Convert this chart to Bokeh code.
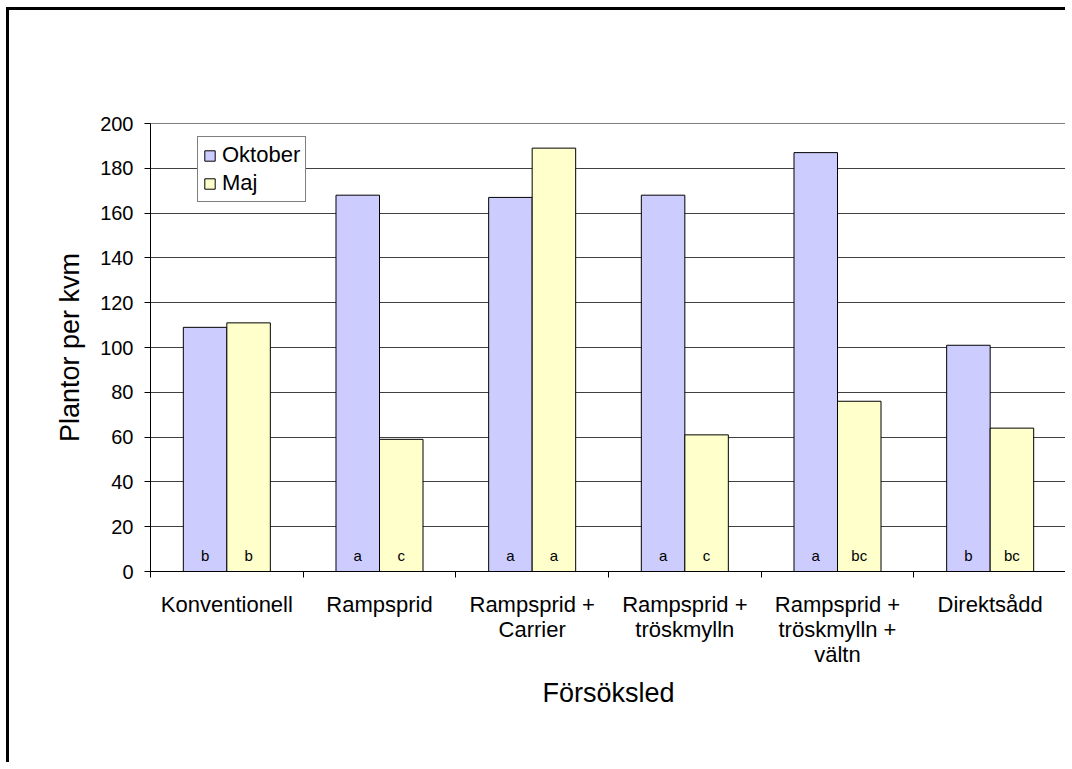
from bokeh.plotting import figure
from bokeh.models import (ColumnDataSource, Range1d, FixedTicker, Legend, LegendItem)
from bokeh.transform import dodge
from bokeh.core.properties import value
from bokeh.embed import file_html
from bokeh.resources import INLINE

# ---- data ----
categories = ["Konventionell", "Rampsprid", "Rampsprid +\nCarrier",
              "Rampsprid +\ntröskmylln", "Rampsprid +\ntröskmylln +\nvältn", "Direktsådd"]
oktober = [109, 168, 167, 168, 187, 101]
maj = [111, 59, 189, 61, 76, 64]
oktober_letters = ["b", "a", "a", "a", "a", "b"]
maj_letters = ["b", "c", "a", "c", "bc", "bc"]
y_ticks = [0, 20, 40, 60, 80, 100, 120, 140, 160, 180, 200]
series_names = ["Oktober", "Maj"]
y_title = "Plantor per kvm"
x_title = "Försöksled"

FONT = "Liberation Sans"
C_OKT = "#CCCCFF"
C_MAJ = "#FFFFCC"

# page geometry: outer border at x=6, y=7 ; frame at x 150..1066, y 123..571
MX, MY, BW_CSS = 6, 7, 3
OX, OY = MX + BW_CSS, MY + BW_CSS
SLACK = 4  # keep the page slightly smaller than the window (no scrollbars)

xs = list(range(1, len(categories) + 1))
src = ColumnDataSource(dict(x=xs, okt=oktober, maj=maj,
                            okl=oktober_letters, majl=maj_letters))

p = figure(width=1072 - OX - SLACK, height=769 - OY - SLACK,
           x_range=Range1d(0.5, len(categories) + 0.5),
           y_range=Range1d(0, 200), output_backend="svg", toolbar_location=None,
           min_border_left=150 - OX, min_border_right=6 - SLACK,
           min_border_top=123 - OY, min_border_bottom=198 - SLACK)
p.margin = (MY, 0, 0, MX)
p.styles = {"border-left": f"{BW_CSS}px solid black",
            "border-top": f"{BW_CSS}px solid black",
            "border-right": "none", "border-bottom": "none",
            "outline": "none", "box-shadow": "none"}
p.background_fill_color = "white"
p.border_fill_color = "white"
p.outline_line_color = "#808080"
p.outline_line_width = 1

BW = 0.285
OFF = BW / 2
r1 = p.vbar(x=dodge("x", -OFF, range=p.x_range), top="okt", width=BW, source=src,
            fill_color=C_OKT, line_color="black", line_width=1)
r2 = p.vbar(x=dodge("x", OFF, range=p.x_range), top="maj", width=BW, source=src,
            fill_color=C_MAJ, line_color="black", line_width=1)

p.text(x=dodge("x", -OFF, range=p.x_range), y=7, text="okl", source=src,
       text_font=value(FONT), text_font_size="15px", text_align="center",
       text_baseline="middle", text_color="black")
p.text(x=dodge("x", OFF, range=p.x_range), y=7, text="majl", source=src,
       text_font=value(FONT), text_font_size="15px", text_align="center",
       text_baseline="middle", text_color="black")

# x axis
xa = p.xaxis[0]
xa.ticker = FixedTicker(ticks=xs, minor_ticks=[x - 0.5 for x in xs] + [xs[-1] + 0.5])
xa.major_label_overrides = {x: c for x, c in zip(xs, categories)}
xa.major_tick_in = 0
xa.major_tick_out = 0
xa.minor_tick_in = 0
xa.minor_tick_out = 6
xa.minor_tick_line_color = "black"
xa.axis_line_color = "black"
xa.major_label_text_font = FONT
xa.major_label_text_font_size = "22px"
xa.major_label_text_line_height = 1.0
xa.major_label_text_color = "black"
xa.major_label_standoff = 14
xa.axis_label = x_title
xa.axis_label_text_font = FONT
xa.axis_label_text_font_size = "27px"
xa.axis_label_text_font_style = "normal"
xa.axis_label_text_color = "black"
xa.axis_label_standoff = 8

# y axis
ya = p.yaxis[0]
ya.ticker = FixedTicker(ticks=y_ticks)
ya.major_tick_in = 0
ya.major_tick_out = 6
ya.minor_tick_line_color = None
ya.axis_line_color = "black"
ya.major_tick_line_color = "black"
ya.major_label_text_font = FONT
ya.major_label_text_font_size = "20px"
ya.major_label_text_color = "black"
ya.major_label_standoff = 11
ya.axis_label = y_title
ya.axis_label_text_font = FONT
ya.axis_label_text_font_size = "27px"
ya.axis_label_text_font_style = "normal"
ya.axis_label_text_color = "black"
ya.axis_label_standoff = 12

p.xgrid.visible = False
p.ygrid.ticker = FixedTicker(ticks=y_ticks)
p.ygrid.grid_line_color = "#404040"
p.ygrid.grid_line_width = 1

legend = Legend(items=[LegendItem(label=series_names[0], renderers=[r1]),
                       LegendItem(label=series_names[1], renderers=[r2])],
                location=(47, 369))
legend.label_text_font = FONT
legend.label_text_font_size = "22px"
legend.label_text_color = "black"
legend.glyph_width = 13
legend.glyph_height = 13
legend.label_height = 24
legend.label_standoff = 6
legend.spacing = 2
legend.padding = 5
legend.margin = 0
legend.border_line_color = "black"
legend.border_line_width = 1
legend.background_fill_color = "white"
legend.background_fill_alpha = 1
p.add_layout(legend)

open("out.html", "w").write(file_html(p, INLINE))
